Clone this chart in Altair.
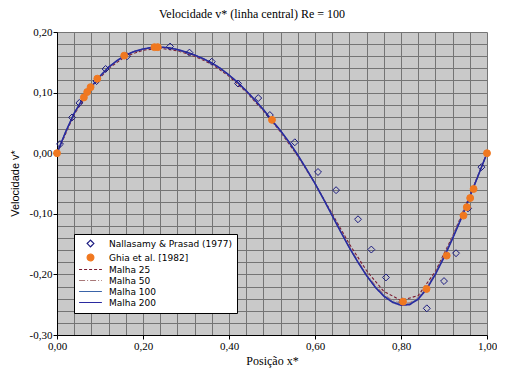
import altair as alt
import pandas as pd

S_NAL = "Nallasamy & Prasad (1977)"
S_GHIA = "Ghia et al. [1982]"
SERIES = [S_NAL, S_GHIA, "Malha 25", "Malha 50", "Malha 100", "Malha 200"]

# Nallasamy & Prasad (1977) - open diamonds
nal_x = [0.007, 0.035, 0.052, 0.092, 0.113, 0.163, 0.263, 0.308, 0.360, 0.421, 0.468, 0.495,
         0.553, 0.607, 0.649, 0.700, 0.731, 0.765, 0.803, 0.860, 0.900, 0.928, 0.956, 0.987]
nal_v = [0.015, 0.059, 0.083, 0.119, 0.139, 0.160, 0.176, 0.166, 0.151, 0.115, 0.091, 0.063,
         0.018, -0.031, -0.061, -0.109, -0.159, -0.205, -0.245, -0.256, -0.211, -0.165, -0.091, -0.023]

# Ghia et al. (1982) - orange dots
ghia_x = [0.0000, 0.0625, 0.0703, 0.0781, 0.0938, 0.1563, 0.2266, 0.2344, 0.5000,
          0.8047, 0.8594, 0.9063, 0.9453, 0.9531, 0.9609, 0.9688, 1.0000]
ghia_v = [0.000, 0.092, 0.101, 0.109, 0.123, 0.161, 0.175, 0.175, 0.055,
          -0.245, -0.224, -0.169, -0.103, -0.089, -0.074, -0.059, 0.000]

# Malha 25
m25_x = [0.00, 0.04, 0.08, 0.12, 0.16, 0.20, 0.24, 0.28, 0.32, 0.36, 0.40, 0.44, 0.48,
         0.52, 0.56, 0.60, 0.64, 0.68, 0.72, 0.76, 0.80, 0.84, 0.88, 0.92, 0.96, 1.00]
m25_v = [0.000, 0.064, 0.108, 0.140, 0.160, 0.170, 0.173, 0.169, 0.160, 0.147, 0.127, 0.101, 0.070,
         0.035, -0.005, -0.050, -0.100, -0.150, -0.194, -0.228, -0.243, -0.235, -0.195, -0.137, -0.070, 0.000]

# Malha 50 / 100 / 200
mf_x = [0.00, 0.02, 0.04, 0.06, 0.08, 0.10, 0.12, 0.14, 0.16, 0.18, 0.20, 0.22, 0.24, 0.26,
        0.28, 0.30, 0.32, 0.34, 0.36, 0.38, 0.40, 0.42, 0.44, 0.46, 0.48, 0.50, 0.52, 0.54,
        0.56, 0.58, 0.60, 0.62, 0.64, 0.66, 0.68, 0.70, 0.72, 0.74, 0.76, 0.78, 0.80, 0.82,
        0.84, 0.86, 0.88, 0.90, 0.92, 0.94, 0.96, 0.98, 1.00]
m50_v = [0.000, 0.034, 0.065, 0.089, 0.109, 0.126, 0.141, 0.152, 0.161, 0.167, 0.171, 0.174, 0.174, 0.173,
         0.170, 0.166, 0.161, 0.155, 0.148, 0.139, 0.128, 0.116, 0.102, 0.087, 0.071, 0.053, 0.036, 0.017,
         -0.004, -0.027, -0.050, -0.076, -0.102, -0.129, -0.154, -0.178, -0.200, -0.218, -0.233, -0.243,
         -0.248, -0.247, -0.238, -0.221, -0.197, -0.169, -0.138, -0.105, -0.070, -0.035, 0.000]
m100_v = [0.000, 0.035, 0.066, 0.090, 0.110, 0.127, 0.142, 0.153, 0.162, 0.168, 0.172, 0.174, 0.175, 0.174,
          0.171, 0.167, 0.162, 0.156, 0.149, 0.140, 0.129, 0.117, 0.103, 0.088, 0.072, 0.054, 0.037, 0.018,
          -0.003, -0.026, -0.050, -0.076, -0.103, -0.130, -0.156, -0.180, -0.202, -0.221, -0.235, -0.245,
          -0.250, -0.249, -0.240, -0.223, -0.199, -0.171, -0.140, -0.107, -0.072, -0.036, 0.000]
m200_v = [0.000, 0.035, 0.066, 0.090, 0.110, 0.127, 0.142, 0.153, 0.162, 0.168, 0.172, 0.1745, 0.175, 0.174,
          0.171, 0.167, 0.162, 0.156, 0.149, 0.140, 0.129, 0.117, 0.103, 0.088, 0.072, 0.054, 0.037, 0.018,
          -0.003, -0.026, -0.050, -0.076, -0.103, -0.130, -0.156, -0.180, -0.202, -0.221, -0.236, -0.246,
          -0.251, -0.250, -0.241, -0.224, -0.200, -0.172, -0.141, -0.108, -0.072, -0.036, 0.000]

x_ticks = [0.00, 0.04, 0.08, 0.12, 0.16, 0.20, 0.24, 0.28, 0.32, 0.36, 0.40, 0.44, 0.48,
           0.52, 0.56, 0.60, 0.64, 0.68, 0.72, 0.76, 0.80, 0.84, 0.88, 0.92, 0.96, 1.00]
y_ticks = [-0.30, -0.28, -0.26, -0.24, -0.22, -0.20, -0.18, -0.16, -0.14, -0.12, -0.10, -0.08, -0.06,
           -0.04, -0.02, 0.00, 0.02, 0.04, 0.06, 0.08, 0.10, 0.12, 0.14, 0.16, 0.18, 0.20]

STROKES = ["#1a1a80", "#f07820", "#7a1a30", "#a87878", "#3a64a8", "#2a2aa0"]
FILLS = ["transparent", "#f07820", "transparent", "transparent", "transparent", "transparent"]
LINE_PATH = "M-3.4,0L3.4,0"
SHAPES = ["diamond", "circle", LINE_PATH, LINE_PATH, LINE_PATH, LINE_PATH]
DASHES = [[1, 0], [1, 0], [3, 2], [6, 2, 1, 2], [1, 0], [1, 0]]

pts = pd.DataFrame({
    "x": nal_x + ghia_x,
    "v": nal_v + ghia_v,
    "serie": [S_NAL] * len(nal_x) + [S_GHIA] * len(ghia_x),
})
lines = pd.concat([
    pd.DataFrame({"x": m25_x, "v": m25_v, "serie": "Malha 25"}),
    pd.DataFrame({"x": mf_x, "v": m50_v, "serie": "Malha 50"}),
    pd.DataFrame({"x": mf_x, "v": m100_v, "serie": "Malha 100"}),
    pd.DataFrame({"x": mf_x, "v": m200_v, "serie": "Malha 200"}),
], ignore_index=True)

fmt = "replace(replace(format(datum.value, '.2f'), '.', ','), '\u2212', '-')"
x_axis = alt.Axis(
    values=x_ticks, title="Posição x*",
    labelExpr=f"abs(datum.value*5 - round(datum.value*5)) < 0.001 ? {fmt} : ''",
    tickOpacity={"condition": {"test": "abs(datum.value*5 - round(datum.value*5)) < 0.001", "value": 1}, "value": 0},
    labelFlush=False, labelOverlap=False, labelBound=False,
    titleFont="Liberation Serif", titleFontSize=12, titleY=20, titleBaseline="top",
)
y_axis = alt.Axis(
    values=y_ticks, title="Velocidade v*",
    labelExpr=f"abs(datum.value*10 - round(datum.value*10)) < 0.001 ? {fmt} : ''",
    tickOpacity={"condition": {"test": "abs(datum.value*10 - round(datum.value*10)) < 0.001", "value": 1}, "value": 0},
    labelOverlap=False, labelBound=False, labelFlush=False,
    titleFont="Liberation Sans", titleFontSize=11, titleX=-37, titleY=151, titleAngle=-90,
    titleBaseline="bottom", titleAlign="center",
)

X = alt.X("x:Q", scale=alt.Scale(domain=[0, 1], nice=False, zero=False), axis=x_axis)
Y = alt.Y("v:Q", scale=alt.Scale(domain=[-0.3, 0.2], nice=False, zero=False), axis=y_axis)
stroke_enc = alt.Stroke("serie:N", scale=alt.Scale(domain=SERIES, range=STROKES), title=None)
fill_enc = alt.Fill("serie:N", scale=alt.Scale(domain=SERIES, range=FILLS), title=None)
shape_enc = alt.Shape("serie:N", scale=alt.Scale(domain=SERIES, range=SHAPES), title=None)
dash_enc = alt.StrokeDash("serie:N", scale=alt.Scale(domain=SERIES, range=DASHES), title=None)

layers = []
for name, w in [("Malha 25", 1.1), ("Malha 50", 1.1), ("Malha 100", 1.2), ("Malha 200", 1.5)]:
    layers.append(
        alt.Chart(lines).transform_filter(alt.datum.serie == name)
        .mark_line(strokeWidth=w)
        .encode(x=X, y=Y, stroke=stroke_enc, strokeDash=dash_enc)
    )
layers.append(
    alt.Chart(pts).mark_point(size=48, strokeWidth=1, opacity=1)
    .encode(x=X, y=Y, stroke=stroke_enc, fill=fill_enc, shape=shape_enc)
)

chart = alt.layer(*layers).properties(
    width=430, height=303,
    title=alt.TitleParams("Velocidade v* (linha central) Re = 100", font="Liberation Serif",
                          fontSize=12, fontWeight="normal", anchor="middle", dx=-20, offset=5, color="black"),
    autosize=alt.AutoSizeParams(type="none"),
    padding={"left": 49, "top": 24, "right": 10, "bottom": 35},
    background="white",
).configure_view(
    fill="#c9c9c9", stroke=None
).configure_axis(
    domainColor="black", domainWidth=1, tickColor="black", tickSize=4, tickWidth=1,
    gridColor="#747474", gridWidth=1, gridOpacity=1, grid=True,
    labelFont="Liberation Serif", labelFontSize=11, labelColor="black", labelPadding=1,
    titleColor="black", titleFontWeight="normal",
).configure_legend(
    orient="none", legendX=17, legendY=202, fillColor="white", strokeColor="black",
    padding=5, labelFont="DejaVu Sans", labelFontSize=9, labelColor="black",
    symbolSize=45, symbolStrokeWidth=1.2, rowPadding=1, symbolOffset=7, labelOffset=14,
)

chart.save("out.html", embed_options={"renderer": "svg", "actions": False})
